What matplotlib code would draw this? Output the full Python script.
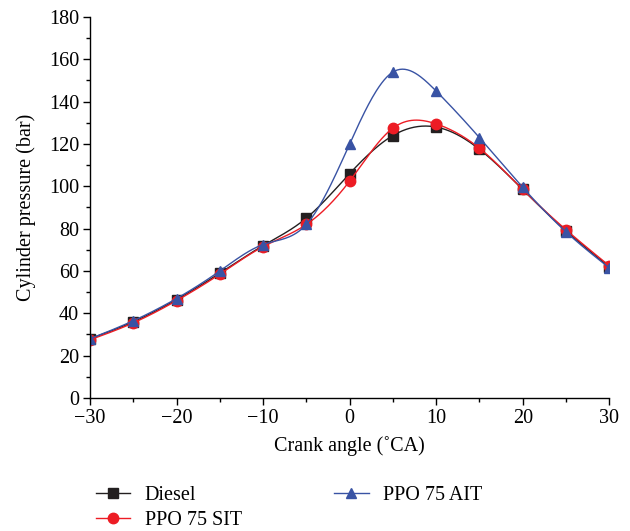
import numpy as np
import matplotlib.pyplot as plt
from matplotlib.ticker import MultipleLocator, FuncFormatter

# ==========================================
# DATA
# ==========================================

crank_angle = [-30, -25, -20, -15, -10, -5, 0, 5, 10, 15, 20, 25, 30]
diesel = [28, 36, 46.5, 59, 72, 85, 106, 124, 128, 117.5, 98.5, 79, 62]
ppo_sit = [27.5, 35.5, 46, 58.5, 71.5, 82, 102.5, 127.5, 129.5, 118, 98.5, 79.5, 62.5]
ppo_ait = [28, 36.5, 47, 60, 72.5, 82, 120, 154, 145, 123, 99.5, 78.5, 61.5]

labels = ["Diesel", "PPO 75 SIT", "PPO 75 AIT"]
colors = ["#231f20", "#ed1c24", "#3953a4"]
markers = ["s", "o", "^"]


def spline(x, y, n=400):
    # natural cubic spline, only used to draw the smooth connecting line
    x = np.asarray(x, float)
    y = np.asarray(y, float)
    k = len(x)
    h = np.diff(x)
    A = np.zeros((k, k))
    b = np.zeros(k)
    A[0, 0] = A[-1, -1] = 1
    for i in range(1, k - 1):
        A[i, i - 1] = h[i - 1]
        A[i, i] = 2 * (h[i - 1] + h[i])
        A[i, i + 1] = h[i]
        b[i] = 6 * ((y[i + 1] - y[i]) / h[i] - (y[i] - y[i - 1]) / h[i - 1])
    m = np.linalg.solve(A, b)
    xs = np.linspace(x[0], x[-1], n)
    idx = np.clip(np.searchsorted(x, xs) - 1, 0, k - 2)
    x0, x1 = x[idx], x[idx + 1]
    hh = x1 - x0
    t0 = x1 - xs
    t1 = xs - x0
    ys = (m[idx] * t0**3 + m[idx + 1] * t1**3) / (6 * hh) \
        + (y[idx] / hh - m[idx] * hh / 6) * t0 \
        + (y[idx + 1] / hh - m[idx + 1] * hh / 6) * t1
    return xs, ys


# ==========================================
# PLOT
# ==========================================

plt.rcParams['font.family'] = ['Liberation Serif', 'DejaVu Serif']
FS = 14.5

fig = plt.figure(figsize=(6.3, 5.31), dpi=100)
ax = fig.add_axes([0.143, 0.2505, 0.824, 0.7175])

for series, lab, c, mk in zip([diesel, ppo_sit, ppo_ait], labels, colors, markers):
    xs, ys = spline(crank_angle, series)
    ax.plot(xs, ys, color=c, lw=1.0)
    ax.plot(crank_angle, series, linestyle="none", marker=mk, color=c, ms=7.5)
    ax.plot([], [], color=c, lw=1.0, marker=mk, ms=7.5, label=lab)

ax.set_xlim(-30, 30)
ax.set_ylim(0, 180)
ax.xaxis.set_major_locator(MultipleLocator(10))
ax.xaxis.set_minor_locator(MultipleLocator(5))
ax.yaxis.set_major_locator(MultipleLocator(20))
ax.yaxis.set_minor_locator(MultipleLocator(10))
ax.xaxis.set_major_formatter(FuncFormatter(lambda v, p: f"{int(round(v))}".replace("-", "\u2212")))

for s in ["top", "right"]:
    ax.spines[s].set_visible(False)
for s in ["left", "bottom"]:
    ax.spines[s].set_linewidth(1.0)
ax.tick_params(which="major", direction="out", length=5, width=1, labelsize=FS, pad=3)
ax.tick_params(which="minor", direction="out", length=3, width=1)

ax.set_xlabel("Crank angle (\u02daCA)", fontsize=FS, labelpad=6)
ax.set_ylabel("Cylinder pressure (bar)", fontsize=FS, labelpad=9)

fig.legend(loc="upper left", bbox_to_anchor=(0.14, 0.1), ncol=2,
           frameon=False, fontsize=FS, handlelength=1.7, handletextpad=0.7,
           columnspacing=4.6, labelspacing=0.3, borderaxespad=0)

fig.savefig("out.png", dpi=100)
